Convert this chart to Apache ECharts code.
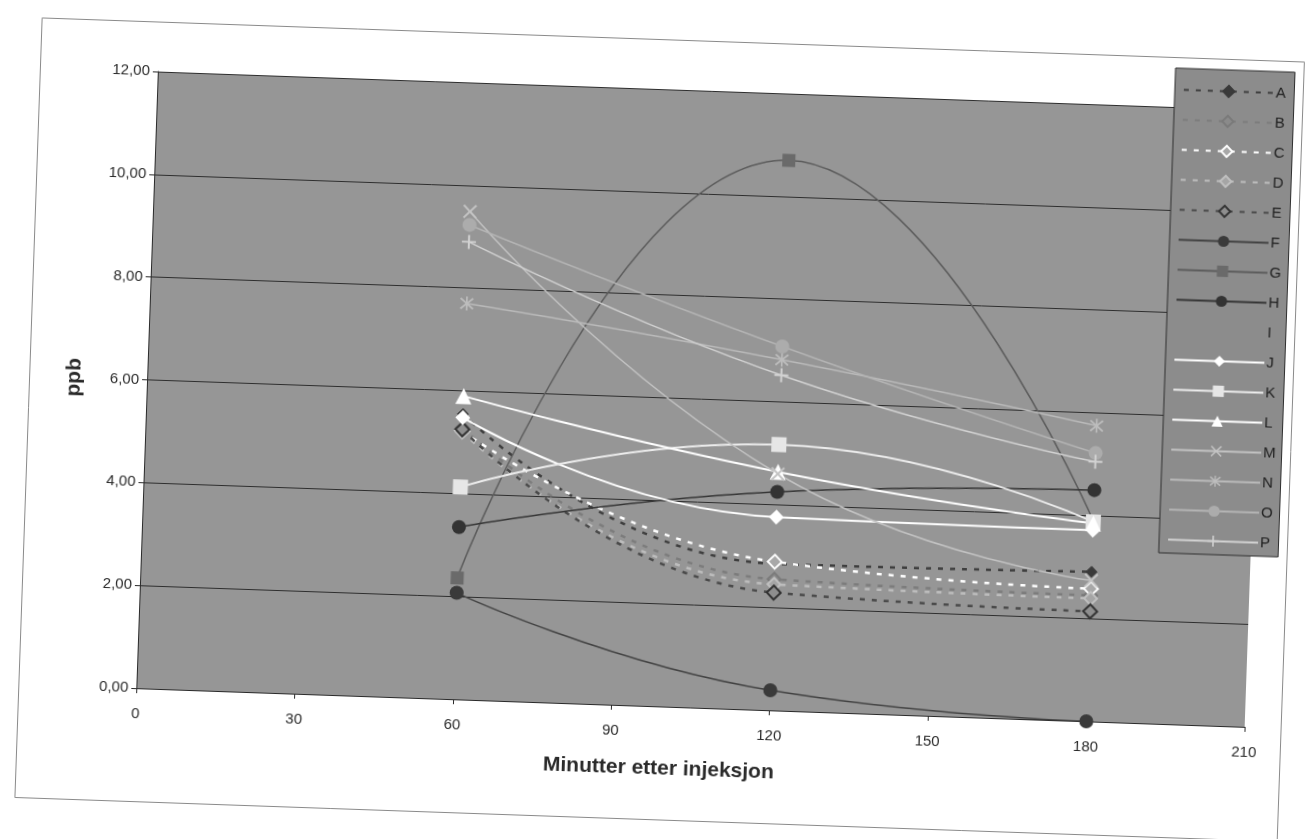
<!DOCTYPE html>
<html>
<head>
<meta charset="utf-8">
<script src="https://cdn.jsdelivr.net/npm/echarts@6/dist/echarts.min.js"></script>
<style>
html,body{margin:0;padding:0;background:#ffffff;overflow:hidden;}
#chart{width:1305px;height:839px;transform:rotate(2deg);transform-origin:50% 50%;}
</style>
</head>
<body>
<div id="chart"></div>
<script>
// ---- data ----
var minutes = [60, 120, 180];
var seriesNames = ['A','B','C','D','E','F','G','H','I','J','K','L','M','N','O','P'];
var A = [5.55, 2.85, 2.91];
var B = [5.28, 2.55, 2.45];
var C = [5.22, 2.89, 2.58];
var D = [5.20, 2.45, 2.39];
var E = [5.25, 2.29, 2.14];
var F = [2.07, 0.39, 0.00];
var G = [2.36, 10.70, 3.90];
var H = [3.35, 4.25, 4.50];
var I = [];
var J = [5.48, 3.76, 3.72];
var K = [4.13, 5.17, 3.88];
var L = [5.90, 4.64, 3.85];
var M = [9.49, 4.60, 2.74];
var N = [7.70, 6.82, 5.75];
var O = [9.23, 7.08, 5.22];
var P = [8.90, 6.52, 5.05];
var xTickLabels = ['0','30','60','90','120','150','180','210'];
var yTickLabels = ['0,00','2,00','4,00','6,00','8,00','10,00','12,00'];
var values = {A:A,B:B,C:C,D:D,E:E,F:F,G:G,H:H,I:I,J:J,K:K,L:L,M:M,N:N,O:O,P:P};

// ---- styles ----
var XSYM = 'path://M1,0 L5,4 L9,0 L10,1 L6,5 L10,9 L9,10 L5,6 L1,10 L0,9 L4,5 L0,1 Z';
var ASTSYM = 'path://M1,0 L5,4 L9,0 L10,1 L6,5 L10,9 L9,10 L5,6 L1,10 L0,9 L4,5 L0,1 Z M4.4,-1 L5.6,-1 L5.6,11 L4.4,11 Z';
var PLUSSYM = 'path://M4.3,0 L5.7,0 L5.7,4.3 L10,4.3 L10,5.7 L5.7,5.7 L5.7,10 L4.3,10 L4.3,5.7 L0,5.7 L0,4.3 L4.3,4.3 Z';
var DOT = [5, 7];
var styles = {
  A:{line:'#3e3e3e',w:2.5,type:DOT,sym:'diamond',size:11,fill:'#3a3a3a',border:'#3a3a3a',bw:1},
  B:{line:'#7c7c7c',w:2.5,type:DOT,sym:'diamond',size:13,fill:'#8a8a8a',border:'#7a7a7a',bw:2},
  C:{line:'#ffffff',w:2.5,type:DOT,sym:'diamond',size:14,fill:'#a8a8a8',border:'#ffffff',bw:2},
  D:{line:'#bdbdbd',w:2.5,type:DOT,sym:'diamond',size:13,fill:'#a5a5a5',border:'#c0c0c0',bw:2},
  E:{line:'#4a4a4a',w:2.5,type:DOT,sym:'diamond',size:14,fill:'#8e8e8e',border:'#333333',bw:2},
  F:{line:'#424242',w:1.5,type:'solid',sym:'circle',size:14,fill:'#3a3a3a',border:'#3a3a3a',bw:0},
  G:{line:'#5c5c5c',w:1.5,type:'solid',sym:'rect',size:13,fill:'#6a6a6a',border:'#6a6a6a',bw:0},
  H:{line:'#363636',w:1.5,type:'solid',sym:'circle',size:14,fill:'#333333',border:'#333333',bw:0},
  I:{line:'rgba(0,0,0,0)',w:0,type:'solid',sym:'none',size:0,fill:'rgba(0,0,0,0)',border:'rgba(0,0,0,0)',bw:0},
  J:{line:'#ffffff',w:2,type:'solid',sym:'diamond',size:15,fill:'#ffffff',border:'#ffffff',bw:0},
  K:{line:'#ececec',w:2,type:'solid',sym:'rect',size:15,fill:'#e6e6e6',border:'#e6e6e6',bw:0},
  L:{line:'#ffffff',w:2,type:'solid',sym:'triangle',size:16,fill:'#ffffff',border:'#ffffff',bw:0},
  M:{line:'#c2c2c2',w:1.5,type:'solid',sym:XSYM,size:14,fill:'#c4c4c4',border:'#c4c4c4',bw:0},
  N:{line:'#bababa',w:1.5,type:'solid',sym:ASTSYM,size:14,fill:'#bdbdbd',border:'#bdbdbd',bw:0},
  O:{line:'#b4b4b4',w:1.5,type:'solid',sym:'circle',size:14,fill:'#acacac',border:'#acacac',bw:0},
  P:{line:'#d2d2d2',w:1.5,type:'solid',sym:PLUSSYM,size:14,fill:'#d2d2d2',border:'#d2d2d2',bw:0}
};

var series = seriesNames.map(function(n){
  var s = styles[n];
  var arr = values[n];
  return {
    name: n,
    type: 'line',
    smooth: 0.5,
    data: arr.map(function(v, i){ return [minutes[i], v]; }),
    symbol: s.sym,
    symbolSize: s.size,
    showSymbol: true,
    lineStyle: {color: s.line, width: s.w, type: s.type},
    itemStyle: {color: s.fill, borderColor: s.border, borderWidth: s.bw},
    emphasis: {disabled: true},
    animation: false
  };
});

var chart = echarts.init(document.getElementById('chart'), null, {renderer:'canvas'});
chart.setOption({
  animation: false,
  backgroundColor: '#ffffff',
  graphic: [{
    type: 'rect', left: 26, top: 37,
    shape: {width: 1263, height: 780},
    style: {fill: 'none', stroke: '#8a8a8a', lineWidth: 1},
    silent: true, z: -10
  }],
  grid: {left: 146, right: 50, top: 89, bottom: 133, show: true,
         backgroundColor: '#969696', borderWidth: 0},
  legend: {
    orient: 'vertical', left: 1163, top: 50, width: 122,
    padding: [14, 6, 6, 8],
    itemWidth: 90, itemHeight: 14, itemGap: 15,
    backgroundColor: '#8c8c8c', borderColor: '#2e2e2e', borderWidth: 1,
    textStyle: {color: '#1e1e1e', fontFamily: 'Liberation Sans', fontSize: 15, padding: [0,0,0,-3]},
    data: seriesNames,
    selectedMode: false
  },
  xAxis: {
    type: 'value', min: 0, max: 210, interval: 30,
    name: 'Minutter etter injeksjon', nameLocation: 'middle', nameGap: 52,
    nameTextStyle: {fontFamily: 'Liberation Sans', fontWeight: 'bold', fontSize: 21, color: '#2a2a2a', padding: [0, 60, 0, 0]},
    axisLine: {onZero: false, lineStyle: {color: '#2a2a2a', width: 1}},
    axisTick: {show: true, inside: false, length: 5, lineStyle: {color: '#2a2a2a'}},
    axisLabel: {margin: 18, fontFamily: 'Liberation Sans', fontSize: 15, color: '#2a2a2a',
      formatter: function(v){ return xTickLabels[Math.round(v/30)]; }},
    splitLine: {show: false}
  },
  yAxis: {
    type: 'value', min: 0, max: 12, interval: 2,
    name: 'ppb', nameLocation: 'middle', nameGap: 62, nameRotate: 90,
    nameTextStyle: {fontFamily: 'Liberation Sans', fontWeight: 'bold', fontSize: 21, color: '#2a2a2a'},
    axisLine: {show: true, lineStyle: {color: '#2a2a2a', width: 1}},
    axisTick: {show: true, inside: false, length: 5, lineStyle: {color: '#2a2a2a'}},
    axisLabel: {margin: 8, fontFamily: 'Liberation Sans', fontSize: 15, color: '#2a2a2a',
      formatter: function(v){ return yTickLabels[Math.round(v/2)]; }},
    splitLine: {show: true, lineStyle: {color: '#2e2e2e', width: 1}}
  },
  series: series
});
</script>
</body>
</html>
